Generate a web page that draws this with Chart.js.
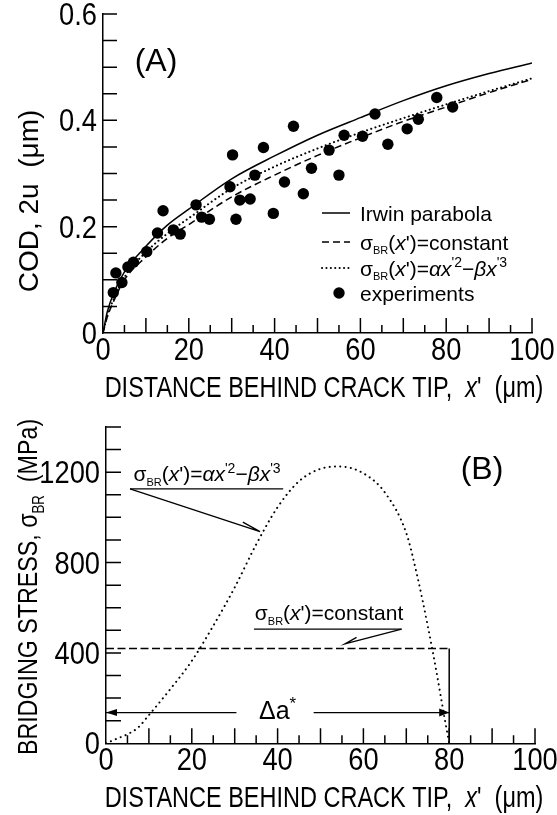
<!DOCTYPE html>
<html>
<head>
<meta charset="utf-8">
<script src="https://cdn.jsdelivr.net/npm/chart.js@4.4.0/dist/chart.umd.min.js"></script>
<style>
  html, body { margin: 0; padding: 0; background: #fff; }
  #wrap { position: relative; width: 557px; height: 815px; overflow: hidden; }
  canvas { position: absolute; left: 0; }
  #codChart { top: 0; }
  #stressChart { top: 390px; }
</style>
</head>
<body>
<div id="wrap">
  <canvas id="codChart" width="557" height="410"></canvas>
  <canvas id="stressChart" width="557" height="425"></canvas>
</div>
<script>
// (A) crack opening displacement, um
const codX = [0, 1, 2.5, 5, 10, 15, 20, 30, 40, 50, 60, 70, 80, 90, 100];
const irwinCOD = [0, 0.04, 0.075, 0.115, 0.163, 0.203, 0.233, 0.29, 0.333, 0.372, 0.405, 0.437, 0.465, 0.488, 0.508];
const constantCOD = [0, 0.03, 0.06, 0.1, 0.143, 0.178, 0.204, 0.256, 0.297, 0.334, 0.367, 0.398, 0.425, 0.452, 0.477];
const cubicCOD = [0, 0.032, 0.064, 0.105, 0.152, 0.187, 0.216, 0.272, 0.313, 0.347, 0.377, 0.404, 0.43, 0.455, 0.479];
const expX = [2.4, 3.0, 4.4, 5.8, 7.1, 10.2, 12.7, 14.0, 16.4, 18.0, 21.7, 23.0, 24.8, 29.6, 30.2, 31.0, 31.9, 34.3,
  35.4, 37.4, 39.7, 42.3, 44.4, 46.7, 48.6, 52.7, 55.0, 56.2, 60.5, 63.4, 66.4, 70.9, 73.5, 77.8, 81.5];
const expCOD = [0.076, 0.113, 0.095, 0.124, 0.133, 0.153, 0.188, 0.230, 0.194, 0.186, 0.241, 0.218, 0.214, 0.275, 0.335, 0.214, 0.250, 0.252,
  0.297, 0.349, 0.225, 0.284, 0.389, 0.262, 0.310, 0.344, 0.297, 0.372, 0.370, 0.412, 0.355, 0.384, 0.402, 0.443, 0.425];

// (B) bridging stress, MPa
const stressX = [0, 2.5, 5, 7.5, 10, 15, 20, 25, 30, 35, 40, 45, 50, 54.5, 60, 65, 70, 72.5, 75, 77, 79, 80];
const cubicStress = [0, 20, 40, 70, 125, 240, 365, 520, 690, 880, 1045, 1160, 1215, 1225, 1195, 1110, 930, 745, 520, 320, 103, 0];
const constX = [0, 80, 80];
const constStress = [420, 420, 0];

const pts = (xs, ys) => xs.map((x, i) => ({ x, y: ys[i] }));

// no condensed face installed: Liberation Sans squeezed sideways
const REG = '"Liberation Sans", Arial, sans-serif';
const SQ = 0.81;

// parts: [text, style]  style: i = italic, s = subscript, p = superscript
function drawRich(ctx, parts, x, y, size, family, align, sx) {
  sx = sx || 1;
  const font = st => (st.includes('i') ? 'italic ' : '') +
    Math.round(st.includes('s') ? size * 0.56 : st.includes('p') ? size * 0.66 : size) + 'px ' + family;
  let w = 0;
  parts.forEach(([t, st]) => { ctx.font = font(st); w += ctx.measureText(t).width; });
  ctx.save();
  ctx.translate(x, y);
  ctx.scale(sx, 1);
  let cx = align === 'center' ? -w / 2 : align === 'right' ? -w : 0;
  ctx.textBaseline = 'alphabetic';
  ctx.textAlign = 'left';
  ctx.fillStyle = '#000';
  parts.forEach(([t, st]) => {
    ctx.font = font(st);
    const dy = st.includes('s') ? size * 0.24 : st.includes('p') ? -size * 0.4 : 0;
    ctx.fillText(t, cx, dy);
    cx += ctx.measureText(t).width;
  });
  ctx.restore();
}

const sigmaConst = [['σ', ''], ['BR', 's'], ['(', ''], ['x', 'i'], ["'", ''], [')=constant', '']];
const sigmaCubic = [['σ', ''], ['BR', 's'], ['(', ''], ['x', 'i'], ["'", ''], [')=', ''], ['α', 'i'], ['x', 'i'],
  ["'2", 'p'], ['−', ''], ['β', 'i'], ['x', 'i'], ["'3", 'p']];
const xTitle = [['DISTANCE BEHIND CRACK TIP,  ', ''], ['x', 'i'], ["'", ''], ['  (μm)', '']];

// inward tick marks and tick labels, taken from the scales' own ticks
function drawAxes(chart, yLen) {
  const { ctx } = chart;
  const xs = chart.scales.x, ys = chart.scales.y;
  ctx.save();
  ctx.strokeStyle = '#000';
  ctx.lineWidth = 1.5;
  ctx.beginPath();
  xs.ticks.forEach(t => {
    if (t.value === xs.min) return;
    const px = xs.getPixelForValue(t.value);
    const len = Math.round(t.value) % 10 === 0 ? 15 : 8;
    ctx.moveTo(px, xs.top);
    ctx.lineTo(px, xs.top - len);
  });
  ys.ticks.forEach(t => {
    if (t.value === ys.min) return;
    const py = ys.getPixelForValue(t.value);
    ctx.moveTo(ys.right, py);
    ctx.lineTo(ys.right + yLen, py);
  });
  ctx.stroke();
  xs.ticks.forEach(t => {
    if (t.label) drawRich(ctx, [[t.label, '']], xs.getPixelForValue(t.value), xs.top + 27, 31, REG, 'center', 0.88);
  });
  ys.ticks.forEach(t => {
    if (t.label) drawRich(ctx, [[t.label, '']], ys.right - 6, ys.getPixelForValue(t.value) + 11, 31, REG, 'right', 0.88);
  });
  ctx.restore();
}

const decorA = {
  id: 'decorA',
  afterDraw(chart) {
    const { ctx, chartArea: a } = chart;
    drawAxes(chart, 14);
    ctx.save();
    ctx.fillStyle = '#000';
    ctx.font = '32px ' + REG;
    ctx.textAlign = 'center';
    ctx.textBaseline = 'middle';
    ctx.fillText('(A)', a.left + 53, a.top + 48);
    // legend
    const ds = chart.data.datasets;
    const rows = [
      { d: ds[0], text: [['Irwin parabola', '']], y: a.top + 199 },
      { d: ds[1], text: sigmaConst, y: a.top + 228 },
      { d: ds[2], text: sigmaCubic, y: a.top + 254 },
      { d: ds[3], text: [['experiments', '']], y: a.top + 279 }
    ];
    const x0 = a.left + 219, x1 = a.left + 247;
    rows.forEach(r => {
      ctx.save();
      if (r.d.showLine) {
        ctx.strokeStyle = '#000';
        ctx.lineWidth = r.d.borderWidth;
        ctx.lineCap = r.d.borderCapStyle || 'butt';
        ctx.setLineDash(r.d.borderDash || []);
        ctx.beginPath();
        ctx.moveTo(x0, r.y);
        ctx.lineTo(x1, r.y);
        ctx.stroke();
      } else {
        ctx.beginPath();
        ctx.arc((x0 + x1) / 2 + 3, r.y, r.d.pointRadius, 0, Math.PI * 2);
        ctx.fill();
      }
      ctx.restore();
      drawRich(ctx, r.text, a.left + 257, r.y + 7.5, 20.5, REG, 'left');
    });
    // axis titles
    drawRich(ctx, xTitle, a.left + 221, a.bottom + 64, 29, REG, 'center', SQ);
    ctx.translate(38, 201);
    ctx.rotate(-Math.PI / 2);
    drawRich(ctx, [['COD, 2u  (μm)', '']], 0, 0, 28, REG, 'center', 1);
    ctx.restore();
  }
};

function halfArrow(ctx, xs, ys, from, tip, barb) {
  ctx.beginPath();
  ctx.moveTo(xs.getPixelForValue(from[0]), ys.getPixelForValue(from[1]));
  ctx.lineTo(xs.getPixelForValue(tip[0]), ys.getPixelForValue(tip[1]));
  ctx.lineTo(xs.getPixelForValue(barb[0]), ys.getPixelForValue(barb[1]));
  ctx.stroke();
}

const decorB = {
  id: 'decorB',
  afterDraw(chart) {
    const { ctx, chartArea: a } = chart;
    const xs = chart.scales.x, ys = chart.scales.y;
    drawAxes(chart, 15);
    ctx.save();
    ctx.fillStyle = '#000';
    ctx.strokeStyle = '#000';
    ctx.lineWidth = 1.3;
    ctx.font = '32px ' + REG;
    ctx.textAlign = 'center';
    ctx.textBaseline = 'middle';
    ctx.fillText('(B)', a.left + 376, a.top + 43);

    // cubic label with leader
    const uy1 = ys.getPixelForValue(1126);
    ctx.beginPath();
    ctx.moveTo(xs.getPixelForValue(5.6), uy1);
    ctx.lineTo(xs.getPixelForValue(41.3), uy1);
    ctx.stroke();
    halfArrow(ctx, xs, ys, [5.6, 1126], [35.9, 937], [31.9, 979]);
    drawRich(ctx, sigmaCubic, xs.getPixelForValue(6.4), uy1 - 8, 20.5, REG, 'left');

    // constant label with leader
    const uy2 = ys.getPixelForValue(505);
    ctx.beginPath();
    ctx.moveTo(xs.getPixelForValue(34.5), uy2);
    ctx.lineTo(xs.getPixelForValue(68.9), uy2);
    ctx.stroke();
    halfArrow(ctx, xs, ys, [68.9, 505], [55.7, 440], [58.4, 469]);
    drawRich(ctx, sigmaConst, xs.getPixelForValue(34.7), uy2 - 9, 20.5, REG, 'left');

    // delta a* span
    const ay = ys.getPixelForValue(136);
    const xl = xs.getPixelForValue(0), xr = xs.getPixelForValue(80);
    ctx.beginPath();
    ctx.moveTo(xl, ay); ctx.lineTo(xs.getPixelForValue(30.4), ay);
    ctx.moveTo(xs.getPixelForValue(48.4), ay); ctx.lineTo(xr, ay);
    ctx.stroke();
    ctx.beginPath();
    ctx.moveTo(xl, ay); ctx.lineTo(xl + 11, ay - 3.5); ctx.lineTo(xl + 11, ay + 3.5); ctx.closePath();
    ctx.moveTo(xr, ay); ctx.lineTo(xr - 10, ay - 4); ctx.lineTo(xr - 10, ay + 4); ctx.closePath();
    ctx.fill();
    drawRich(ctx, [['Δa', ''], ['*', 'p']], xs.getPixelForValue(40), ay + 6, 25, REG, 'center');

    // axis titles
    drawRich(ctx, xTitle, a.left + 218, a.bottom + 64, 29, REG, 'center', SQ);
    ctx.translate(37, 197);
    ctx.rotate(-Math.PI / 2);
    drawRich(ctx, [['BRIDGING STRESS, ', ''], ['σ', ''], ['BR', 's'], ['  (MPa)', '']], 0, 0, 28, REG, 'center', 0.83);
    ctx.restore();
  }
};

const lineDs = (label, data, extra) => Object.assign({
  label, data, showLine: true, borderColor: '#000', borderWidth: 1.5, pointRadius: 0,
  cubicInterpolationMode: 'monotone', fill: false
}, extra);

function axes(yMax, yStep, yLabelEvery, yWidth, xHeight) {
  return {
    x: {
      type: 'linear', min: 0, max: 100,
      ticks: { display: false, stepSize: 5, autoSkip: false, callback: v => (v % 20 === 0 ? String(v) : '') },
      grid: { display: false, drawTicks: false },
      border: { color: '#000', width: 1.5 },
      afterFit: s => { s.height = xHeight; }
    },
    y: {
      type: 'linear', min: 0, max: yMax,
      ticks: {
        display: false, stepSize: yStep, autoSkip: false,
        callback: v => {
          const r = Math.round(v * 1000) / 1000;
          const k = r / yLabelEvery;
          if (Math.abs(k - Math.round(k)) > 1e-6) return '';
          return r === 0 ? '0' : (yLabelEvery < 1 ? r.toFixed(1) : String(r));
        }
      },
      grid: { display: false, drawTicks: false },
      border: { color: '#000', width: 1.5 },
      afterFit: s => { s.width = yWidth; }
    }
  };
}

const baseOpts = {
  responsive: false, animation: false, events: [],
  plugins: { legend: { display: false }, tooltip: { enabled: false } }
};

new Chart(document.getElementById('codChart'), {
  type: 'scatter',
  data: {
    datasets: [
      lineDs('Irwin parabola', pts(codX, irwinCOD)),
      lineDs('σBR(x\')=constant', pts(codX, constantCOD), { borderDash: [7, 4] }),
      lineDs('σBR(x\')=αx\'2−βx\'3', pts(codX, cubicCOD), { borderDash: [0.1, 4.3], borderCapStyle: 'round', borderWidth: 2 }),
      { label: 'experiments', data: pts(expX, expCOD), showLine: false, pointRadius: 5.7,
        backgroundColor: '#000', borderWidth: 0 }
    ]
  },
  options: Object.assign({}, baseOpts, {
    layout: { padding: { top: 14, right: 25, left: 0, bottom: 0 } },
    scales: axes(0.6, 0.05, 0.2, 103, 77)
  }),
  plugins: [decorA]
});

new Chart(document.getElementById('stressChart'), {
  type: 'scatter',
  data: {
    datasets: [
      lineDs('σBR(x\')=αx\'2−βx\'3', pts(stressX, cubicStress), { borderDash: [0.1, 5.2], borderCapStyle: 'round', borderWidth: 2 }),
      lineDs('σBR(x\')=constant', pts(constX, constStress), {
        cubicInterpolationMode: 'default', tension: 0,
        segment: { borderDash: c => (c.p0DataIndex === 0 ? [8, 3.5] : []) }
      })
    ]
  },
  options: Object.assign({}, baseOpts, {
    layout: { padding: { top: 37, right: 22, left: 0, bottom: 0 } },
    scales: axes(1400, 100, 400, 106, 71.7)
  }),
  plugins: [decorB]
});
</script>
</body>
</html>
